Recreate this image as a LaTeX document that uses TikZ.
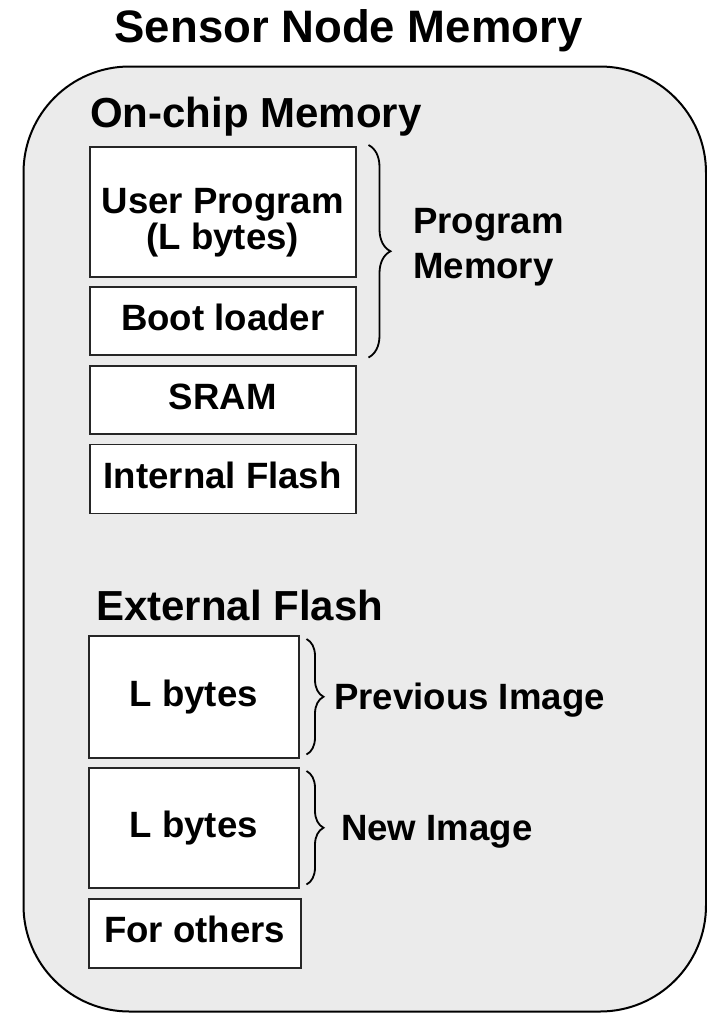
\documentclass[tikz,border=0pt]{standalone}
\usepackage{fontspec}
\setmainfont{Liberation Sans}
\usetikzlibrary{decorations.pathreplacing}

\tikzset{
  cell/.style={draw=black!85, line width=1.5pt, fill=white, anchor=north west,
    inner sep=0pt, text height=26.5pt, text depth=7.7pt,
    font=\fontsize{36.6}{32}\selectfont\bfseries},
  celltext/.style={inner sep=0pt, align=center, font=\fontsize{36.6}{32}\selectfont\bfseries},
  heading/.style={anchor=base west, inner sep=0pt, font=\fontsize{42}{48}\selectfont\bfseries},
  side/.style={anchor=west, align=left, inner sep=0pt, font=\fontsize{36.6}{45}\selectfont\bfseries},
  brc/.style={decorate, decoration={brace, amplitude=#1}, line width=1.8pt},
}

\begin{document}
\begin{tikzpicture}[x=1pt, y=-1pt]
  \useasboundingbox (0,0) rectangle (707,1013);

  % outer memory frame
  \draw[line width=2pt, fill=black!8, rounded corners=106pt] (23.5,66.5) rectangle (706,1011.5);
  \node[anchor=base, inner sep=0pt, font=\fontsize{45.5}{50}\selectfont\bfseries] (title) at (348.5,42) {Sensor Node Memory};

  % on-chip part
  \node[heading] (onchip) at (90,127) {On-chip Memory};
  \node[cell, minimum width=266, minimum height=130] (user) at (89,146) {};
  \node[celltext] (usertxt) at ([yshift=-11pt]user.center) {User Program\\(L bytes)};
  \node[cell, minimum width=266, minimum height=68] (boot) at (89,286) {Boot loader};
  \node[cell, minimum width=266, minimum height=68] (sram) at (89,365) {SRAM};
  \node[cell, minimum width=266, minimum height=69] (intflash) at (89,443.5) {Internal Flash};

  \draw[brc=22pt] ([xshift=12pt,yshift=1pt]user.north east) -- ([xshift=12pt,yshift=-2pt]boot.south east);
  \node[side] (progmem) at (413,247) {Program\\Memory};

  % external flash part
  \node[heading] (extflash) at (96,620) {External Flash};
  \node[cell, minimum width=210, minimum height=122] (prev) at (88,635) {L bytes};
  \node[cell, minimum width=210, minimum height=120] (new) at (88,767) {L bytes};
  \node[cell, minimum width=212, minimum height=69] (others) at (88,898) {For others};

  \draw[brc=17pt] ([xshift=7pt,yshift=-4pt]prev.north east) -- ([xshift=7pt,yshift=4pt]prev.south east);
  \draw[brc=17pt] ([xshift=7pt,yshift=-4pt]new.north east) -- ([xshift=7pt,yshift=4pt]new.south east);
  \node[side] (previmg) at (334,700) {Previous Image};
  \node[side] (newimg) at (341,832) {New Image};
\end{tikzpicture}
\end{document}
